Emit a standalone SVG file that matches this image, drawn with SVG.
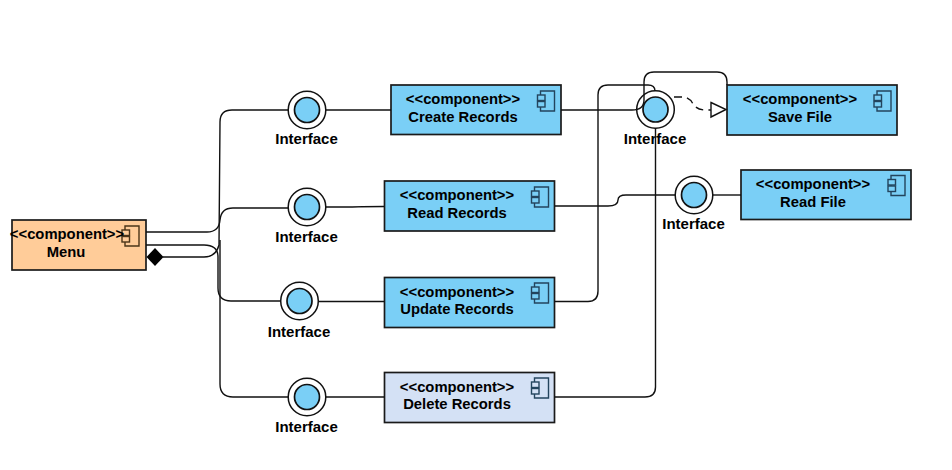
<svg xmlns="http://www.w3.org/2000/svg" xmlns:xlink="http://www.w3.org/1999/xlink" width="952" height="470" viewBox="0 0 952 470">
<style>
text{font-family:"Liberation Sans",Arial,sans-serif;font-weight:700;font-size:14.8px;fill:#000;text-anchor:middle}
.box{stroke:#1a1a1a;stroke-width:1.7}
.blue{fill:#7ACFF6}
.orange{fill:#FFCC99}
.pale{fill:#D4E1F5}
.ring{fill:#fff;stroke:#111;stroke-width:1.5}
.disk{fill:#7ACFF6;stroke:#111;stroke-width:1.7}
.icon{fill:none;stroke:#23445D;stroke-width:1.4}
.orange-icon{stroke:#4a3418;fill:none;stroke-width:1.4}
.lines path{fill:none;stroke:#111;stroke-width:1.4}
.if text{font-size:15px}
</style>
<defs>
<g id="ic"><path d="M0 4V0H14V20H0V16M0 9.500V10.500"/><rect x="-3" y="4" width="7.500" height="5.500"/><rect x="-3" y="10.500" width="7.500" height="5.500"/></g>
<g id="cir"><circle r="18.800" class="ring"/><circle r="12.500" class="disk"/></g>
</defs>
<g id="menu"><rect class="box orange" x="12" y="220" width="134" height="50"/><use xlink:href="#ic" class="orange-icon" x="125" y="226"/><text x="67" y="239">&lt;&lt;component&gt;&gt;</text><text x="66" y="257">Menu</text></g>
<g id="create-records"><rect class="box blue" x="391" y="85" width="170" height="49.500"/><use xlink:href="#ic" class="icon" x="540.500" y="91"/><text x="463" y="104">&lt;&lt;component&gt;&gt;</text><text x="463" y="121.500">Create Records</text></g>
<g id="read-records"><rect class="box blue" x="384.500" y="181" width="170" height="50"/><use xlink:href="#ic" class="icon" x="534.500" y="187"/><text x="457" y="200">&lt;&lt;component&gt;&gt;</text><text x="457" y="217.500">Read Records</text></g>
<g id="update-records"><rect class="box blue" x="384.500" y="277.500" width="170" height="50"/><use xlink:href="#ic" class="icon" x="534.500" y="283"/><text x="457" y="297">&lt;&lt;component&gt;&gt;</text><text x="457" y="314">Update Records</text></g>
<g id="delete-records"><rect class="box pale" x="384.500" y="372.500" width="170" height="50"/><use xlink:href="#ic" class="icon" x="534.500" y="378"/><text x="457" y="392">&lt;&lt;component&gt;&gt;</text><text x="457" y="409">Delete Records</text></g>
<g id="save-file"><rect class="box blue" x="727" y="85" width="170" height="50"/><use xlink:href="#ic" class="icon" x="877" y="91"/><text x="800" y="104">&lt;&lt;component&gt;&gt;</text><text x="800" y="121.500">Save File</text></g>
<g id="read-file"><rect class="box blue" x="741" y="170" width="170" height="49.500"/><use xlink:href="#ic" class="icon" x="891" y="175.500"/><text x="813" y="189">&lt;&lt;component&gt;&gt;</text><text x="813" y="206.500">Read File</text></g>
<g class="if" id="interface-1"><use xlink:href="#cir" x="307" y="110"/><text x="306.500" y="144">Interface</text></g>
<g class="if" id="interface-2"><use xlink:href="#cir" x="307" y="207"/><text x="306.500" y="242">Interface</text></g>
<g class="if" id="interface-3"><use xlink:href="#cir" x="299.500" y="301"/><text x="299" y="337">Interface</text></g>
<g class="if" id="interface-4"><use xlink:href="#cir" x="307" y="397"/><text x="306.500" y="432">Interface</text></g>
<g class="if" id="interface-5"><use xlink:href="#cir" x="655.500" y="109.500"/><text x="655" y="144">Interface</text></g>
<g class="if" id="interface-6"><use xlink:href="#cir" x="694" y="195"/><text x="693.500" y="229">Interface</text></g>
<g class="lines" id="connectors">
<path d="M146 232H207Q219 232 220 220Q221 208 233 208H288"/>
<path d="M146 245H204Q218 245 218 257V288Q218 301 231 301H281"/>
<path d="M163 257H204Q216 257 219 245L220 122Q220 110 232 110H288"/>
<path d="M220 240V384Q220 397 233 397H288"/>
<path d="M326 110H391"/>
<path d="M326 207H350Q358 206.500 384 206.500"/>
<path d="M318 301.500H384.500"/>
<path d="M326 397H384.500"/>
<path d="M561 110H632Q644 110 644 100V82Q644 72 654 72H717Q727 72 727 82V85"/>
<path d="M554.500 206H608Q618 206 618 200Q618 195 626 195H675"/>
<path d="M713 195H741"/>
<path d="M554.500 301.500H588Q598 301.500 598 291V95Q598 85 608 85H648Q655 85 655 91"/>
<path d="M554.500 397H645Q655.500 397 655.500 387V128"/>
<path d="M674 97H684Q690 98 693 104Q697 110 706 110H711" stroke-dasharray="8 5"/>
<polygon points="711,102.500 726,109.500 711,117" fill="#fff" stroke="#111" stroke-width="1.400"/>
<polygon points="146.500,257 155,248 163.500,257 155,266" fill="#000"/>
</g>
</svg>
